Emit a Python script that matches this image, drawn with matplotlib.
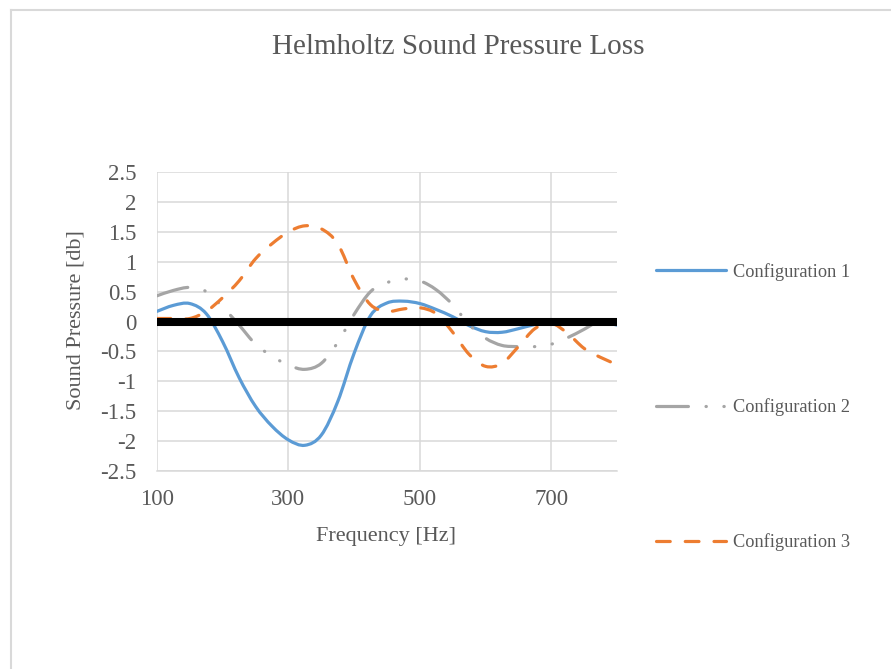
import matplotlib
matplotlib.use("Agg")
import matplotlib.pyplot as plt
from matplotlib.lines import Line2D
from matplotlib.path import Path
from matplotlib.patches import PathPatch

freq = [100, 125, 150, 175, 200, 225, 250, 275, 300, 325, 350, 375, 400, 425,
        450, 475, 500, 525, 550, 575, 600, 625, 650, 675, 700, 725, 750, 775, 800]

config1 = [0.17, 0.27, 0.30, 0.13, -0.34, -0.94, -1.42, -1.75, -1.98, -2.07,
           -1.90, -1.34, -0.53, 0.10, 0.31, 0.34, 0.30, 0.20, 0.08, -0.07,
           -0.17, -0.18, -0.12, -0.05, 0.00, 0.02, 0.02, 0.00, -0.06]

config2 = [0.43, 0.52, 0.57, 0.50, 0.24, -0.06, -0.38, -0.58, -0.73, -0.80,
           -0.70, -0.35, 0.12, 0.50, 0.65, 0.71, 0.68, 0.53, 0.28, -0.05,
           -0.28, -0.40, -0.42, -0.42, -0.38, -0.27, -0.13, 0.02, 0.03]

config3 = [0.05, 0.05, 0.05, 0.17, 0.40, 0.68, 1.05, 1.30, 1.50, 1.60,
           1.55, 1.30, 0.70, 0.28, 0.17, 0.21, 0.23, 0.13, -0.18, -0.55,
           -0.75, -0.70, -0.42, -0.12, -0.03, -0.20, -0.45, -0.60, -0.72]

labels = ['Configuration 1', 'Configuration 2', 'Configuration 3']
yticks = [-2.5, -2, -1.5, -1, -0.5, 0, 0.5, 1, 1.5, 2, 2.5]
ytick_labels = ['-2.5', '-2', '-1.5', '-1', '-0.5', '0', '0.5', '1', '1.5', '2', '2.5']
xticks = [100, 300, 500, 700]

txt = '#595959'
grid = '#D9D9D9'
plt.rcParams['font.family'] = ['Liberation Serif', 'DejaVu Serif']
plt.rcParams['axes.unicode_minus'] = False


def smooth_path(x, y):
    # geglaettete Linie wie in Excel: Bezier-Segmente durch die Messpunkte
    pts = list(zip(x, y))
    n = len(pts)
    verts = [pts[0]]
    codes = [Path.MOVETO]
    for i in range(n - 1):
        p0 = pts[max(i - 1, 0)]
        p1 = pts[i]
        p2 = pts[i + 1]
        p3 = pts[min(i + 2, n - 1)]
        c1 = (p1[0] + (p2[0] - p0[0]) / 6, p1[1] + (p2[1] - p0[1]) / 6)
        c2 = (p2[0] - (p3[0] - p1[0]) / 6, p2[1] - (p3[1] - p1[1]) / 6)
        verts += [c1, c2, p2]
        codes += [Path.CURVE4] * 3
    return Path(verts, codes)


fig = plt.figure(figsize=(8.91, 6.69), dpi=100)
ax = fig.add_axes([157 / 891, 1 - 471 / 669, 460 / 891, 299 / 669])

# Rahmen des Diagrammbereichs (nur oben und links sichtbar)
fig.add_artist(Line2D([11 / 891, 1.0], [1 - 10 / 669] * 2, color=grid, lw=1.5))
fig.add_artist(Line2D([11 / 891] * 2, [0.0, 1 - 10 / 669], color=grid, lw=1.5))

styles = [
    dict(color='#5B9BD5', lw=2.3, linestyle='-'),
    dict(color='#A5A5A5', lw=2.3, linestyle=(0, (10, 5.5, 0.1, 5.5, 0.1, 5.5))),
    dict(color='#ED7D31', lw=2.3, linestyle=(0, (4.3, 4.7))),
]

handles = []
for ys, st, lab in zip([config1, config2, config3], styles, labels):
    patch = PathPatch(smooth_path(freq, ys), facecolor='none', edgecolor=st['color'],
                      lw=st['lw'], linestyle=st['linestyle'], capstyle='round',
                      joinstyle='round', zorder=3)
    ax.add_patch(patch)
    handles.append(Line2D([], [], color=st['color'], lw=st['lw'],
                          linestyle=st['linestyle'], dash_capstyle='round',
                          solid_capstyle='round', label=lab))

ax.axhline(0, color='black', lw=5.8, zorder=5)

ax.set_xlim(100, 800)
ax.set_ylim(-2.5, 2.5)
ax.set_xticks(xticks)
ax.set_xticklabels([str(x) for x in xticks])
ax.set_yticks(yticks)
ax.set_yticklabels(ytick_labels)
ax.grid(True, color=grid, lw=1.1)
ax.set_axisbelow(True)
for s in ['top', 'right', 'left']:
    ax.spines[s].set_visible(False)
ax.spines['bottom'].set_color(grid)
ax.spines['bottom'].set_linewidth(1.1)
ax.tick_params(length=0, labelsize=16.5, colors=txt)
ax.tick_params(axis='x', pad=13)
ax.tick_params(axis='y', pad=15)

fig.text(458 / 891, 1 - 47 / 669, 'Helmholtz Sound Pressure Loss',
         ha='center', va='center', fontsize=21, color=txt)
fig.text(386 / 891, 1 - 536 / 669, 'Frequency [Hz]',
         ha='center', va='center', fontsize=16, color=txt)
fig.text(76 / 891, 1 - 320 / 669, 'Sound Pressure [db]', rotation=90,
         ha='center', va='center', fontsize=16, color=txt)

fig.legend(handles=handles, loc='upper left',
           bbox_to_anchor=(656 / 891, 1 - 263 / 669),
           frameon=False, fontsize=13.2, labelcolor=txt,
           handlelength=3.8, handletextpad=0.38, labelspacing=6.4,
           borderpad=0, borderaxespad=0)

fig.savefig('out.png', dpi=100)
